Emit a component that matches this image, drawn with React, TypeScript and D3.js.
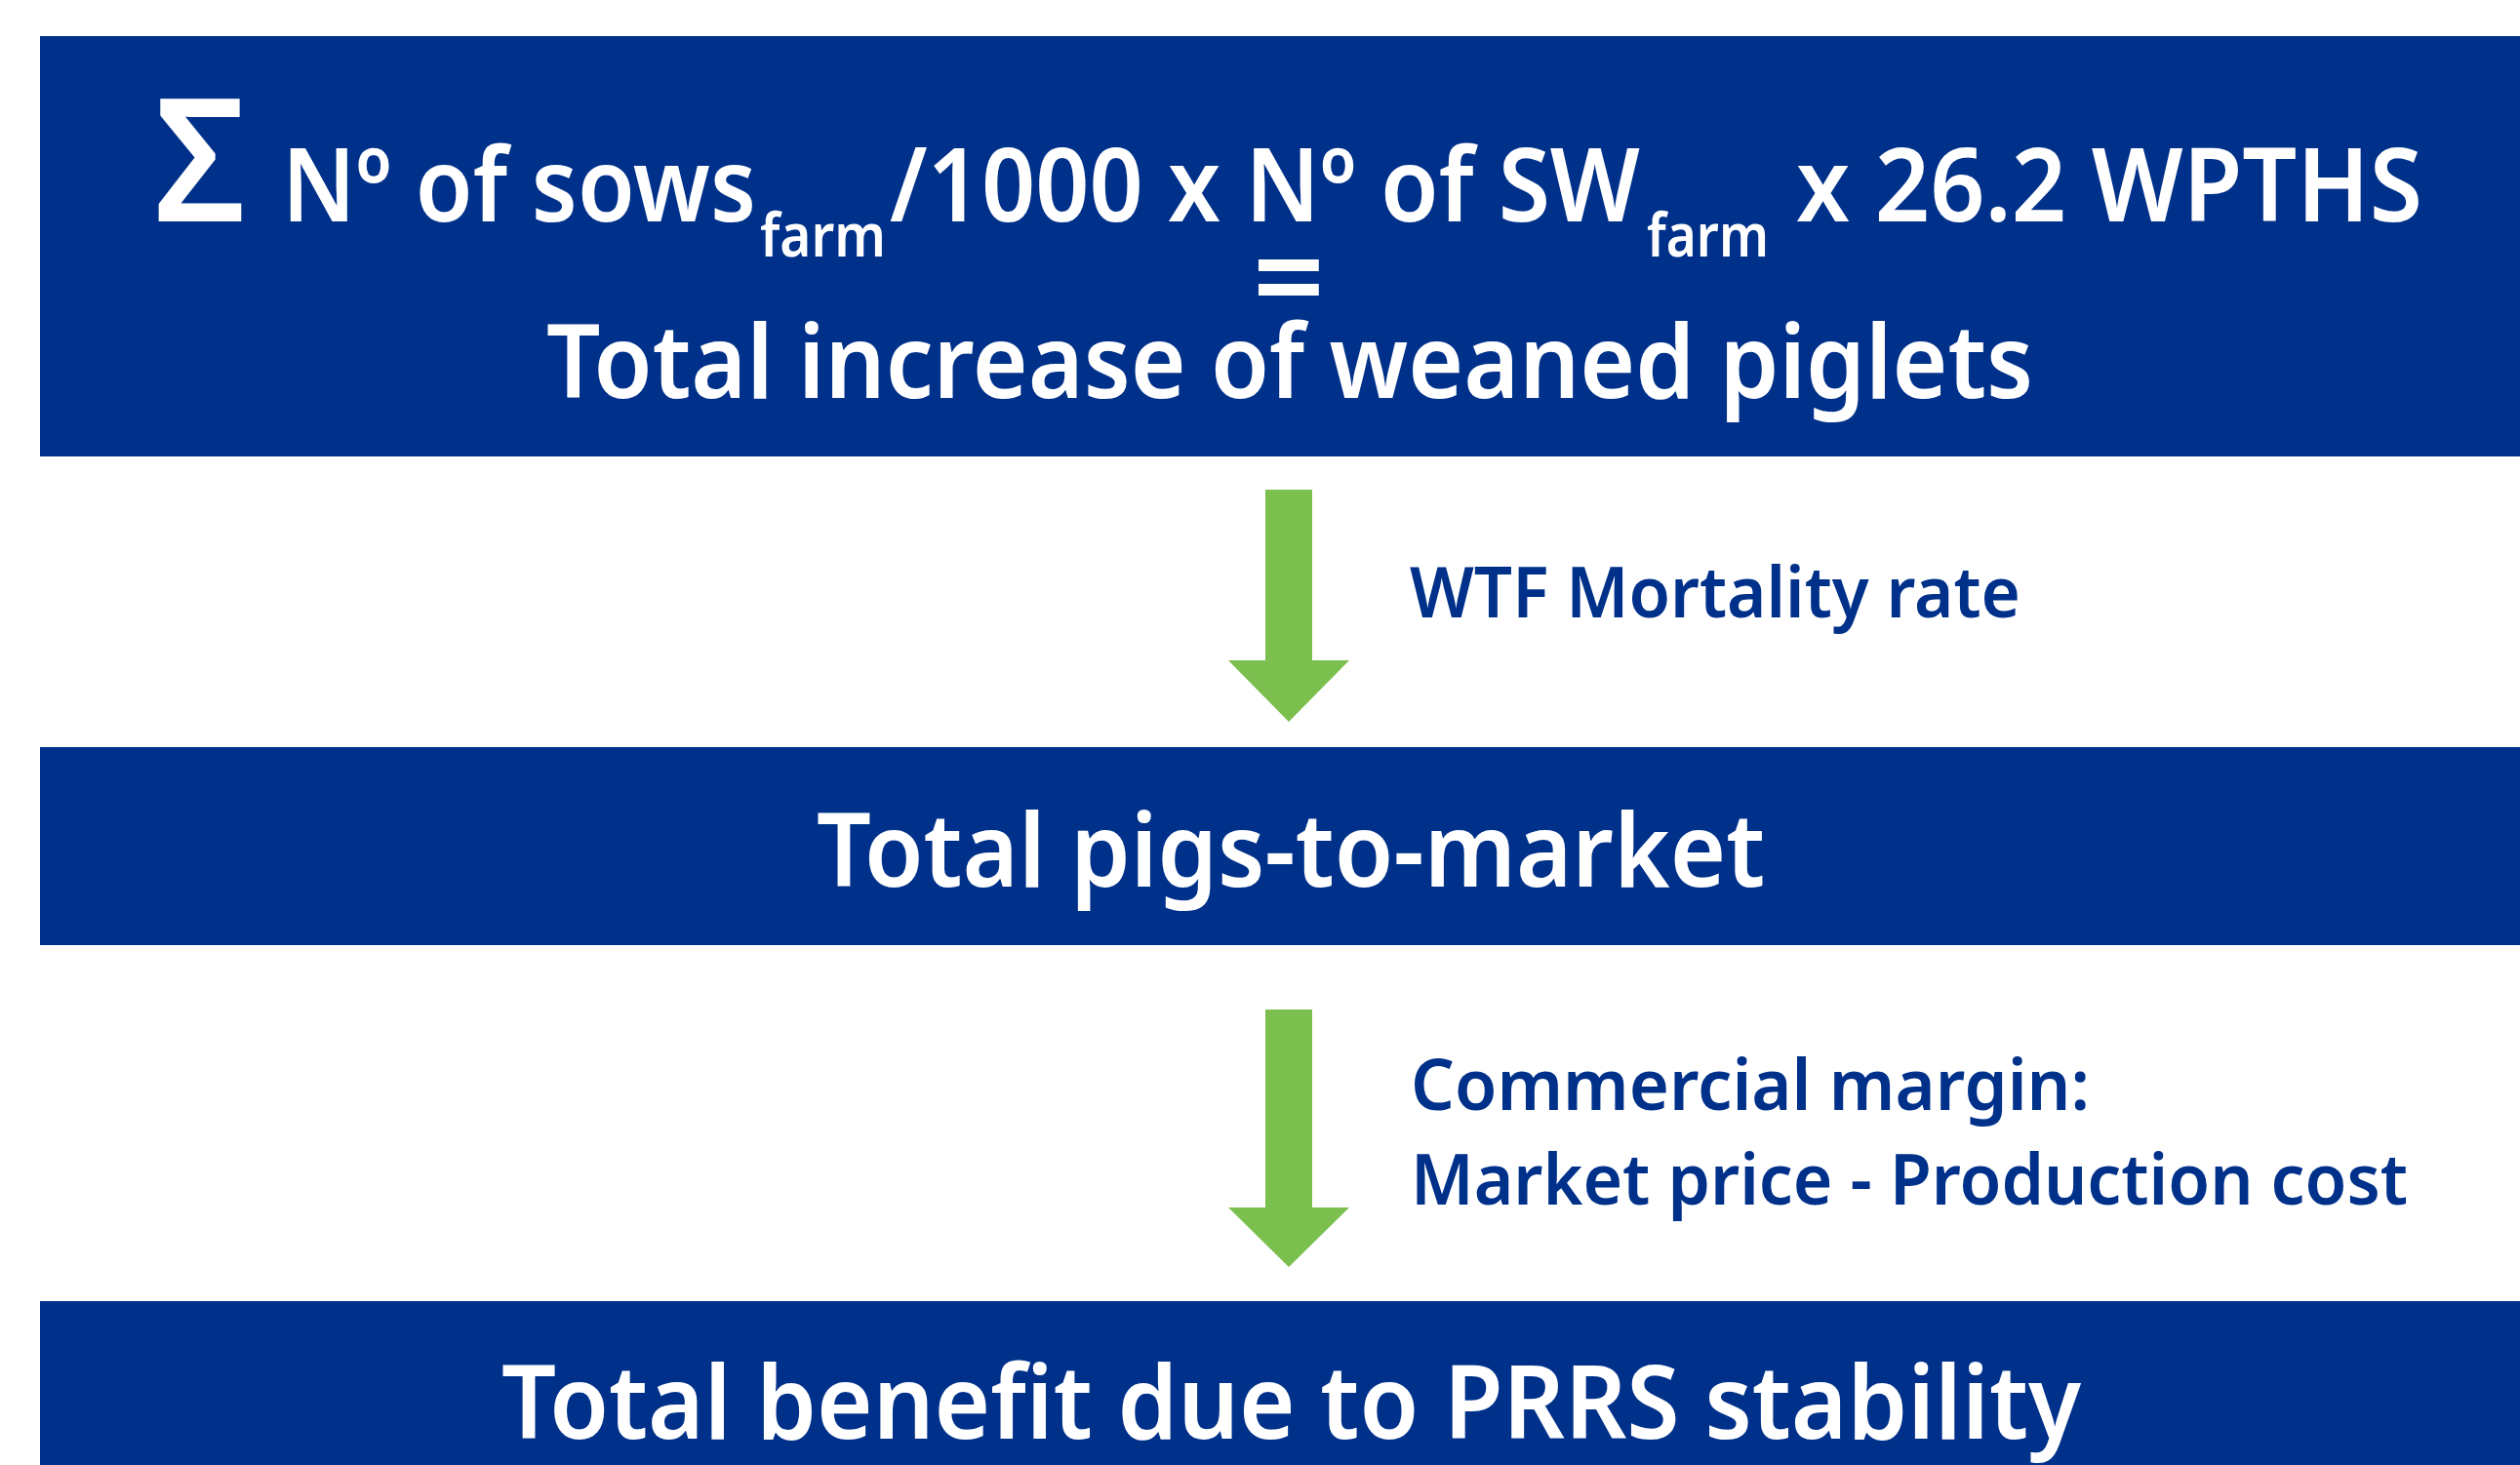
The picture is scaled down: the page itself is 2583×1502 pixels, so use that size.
import React from "react";
import * as d3 from "d3";

const W = 2583;
const H = 1502;

const NAVY = "#00318a";
const GREEN = "#7bbf4e";
const FONT = "'Noto Sans', 'Open Sans', sans-serif";

// flow content
const stageLabels = [
  "Total increase of weaned piglets",
  "Total pigs-to-market",
  "Total benefit due to PRRS stability"
];
const stepLabels = [
  ["WTF Mortality rate"],
  ["Commercial margin:", "Market price - Production cost"]
];
const formulaParts = ["N\u00ba of sows", "farm", "/1000 x N\u00ba of SW", "farm", " x 26.2 WPTHS"];

// layout (px)
const boxes = [
  { top: 37, bottom: 468, baseline: 408, x0: 560, x1: 2084 },
  { top: 766, bottom: 969, baseline: 909, x0: 837, x1: 1809 },
  { top: 1334, bottom: 1520, baseline: 1475, x0: 514, x1: 2133 }
];
const arrows = [
  { top: 502, neck: 677, tip: 740, labelBase: [633], lx: [[1445, 2071]] },
  { top: 1035, neck: 1238, tip: 1299, labelBase: [1138, 1235], lx: [[1446, 2142], [1446, 2468]] }
];
const formulaLayout = [
  { x0: 289, x1: 775, base: 227, size: 104 },
  { x0: 779, x1: 908, base: 263, size: 62 },
  { x0: 912, x1: 1681, base: 227, size: 104 },
  { x0: 1688, x1: 1813, base: 263, size: 62 },
  { x0: 1841, x1: 2483, base: 227, size: 104 }
];

const cx = 1321;
const shaftHalf = 24;
const headHalf = 62;

function arrowPath(a) {
  const p = d3.path();
  p.moveTo(cx - shaftHalf, a.top);
  p.lineTo(cx + shaftHalf, a.top);
  p.lineTo(cx + shaftHalf, a.neck);
  p.lineTo(cx + headHalf, a.neck);
  p.lineTo(cx, a.tip);
  p.lineTo(cx - headHalf, a.neck);
  p.lineTo(cx - shaftHalf, a.neck);
  p.closePath();
  return p.toString();
}

export default function App() {
  return (
    <svg
      width={W}
      height={H}
      style={{ position: "absolute", left: 0, top: 0, background: "#fff" }}
      fontFamily={FONT}
      fontWeight={600}
    >
      {boxes.map((b, i) => (
        <g key={i}>
          <rect x={41} y={b.top} width={W - 41} height={b.bottom - b.top} fill={NAVY} />
          <text
            x={b.x0}
            y={b.baseline}
            fontSize={104}
            fill="#fff"
            textLength={b.x1 - b.x0}
            lengthAdjust="spacingAndGlyphs"
          >
            {stageLabels[i]}
          </text>
        </g>
      ))}

      {/* formula line in first box */}
      <text x={158} y={227} fontSize={176} fill="#fff" textLength={94} lengthAdjust="spacingAndGlyphs">
        {"\u03a3"}
      </text>
      {formulaParts.map((t, i) => {
        const l = formulaLayout[i];
        return (
          <text
            key={i}
            x={l.x0}
            y={l.base}
            fontSize={l.size}
            fill="#fff"
            textLength={l.x1 - l.x0}
            lengthAdjust="spacingAndGlyphs"
            style={{ whiteSpace: "pre" }}
          >
            {t.trim()}
          </text>
        );
      })}
      <text x={cx} y={330} fontSize={130} fill="#fff" textAnchor="middle">
        =
      </text>

      {arrows.map((a, i) => (
        <g key={i}>
          <path d={arrowPath(a)} fill={GREEN} />
          {stepLabels[i].map((s, j) => (
            <text
              key={j}
              x={a.lx[j][0]}
              y={a.labelBase[j]}
              fontSize={73}
              fill={NAVY}
              textLength={a.lx[j][1] - a.lx[j][0]}
              lengthAdjust="spacingAndGlyphs"
            >
              {s}
            </text>
          ))}
        </g>
      ))}
    </svg>
  );
}
